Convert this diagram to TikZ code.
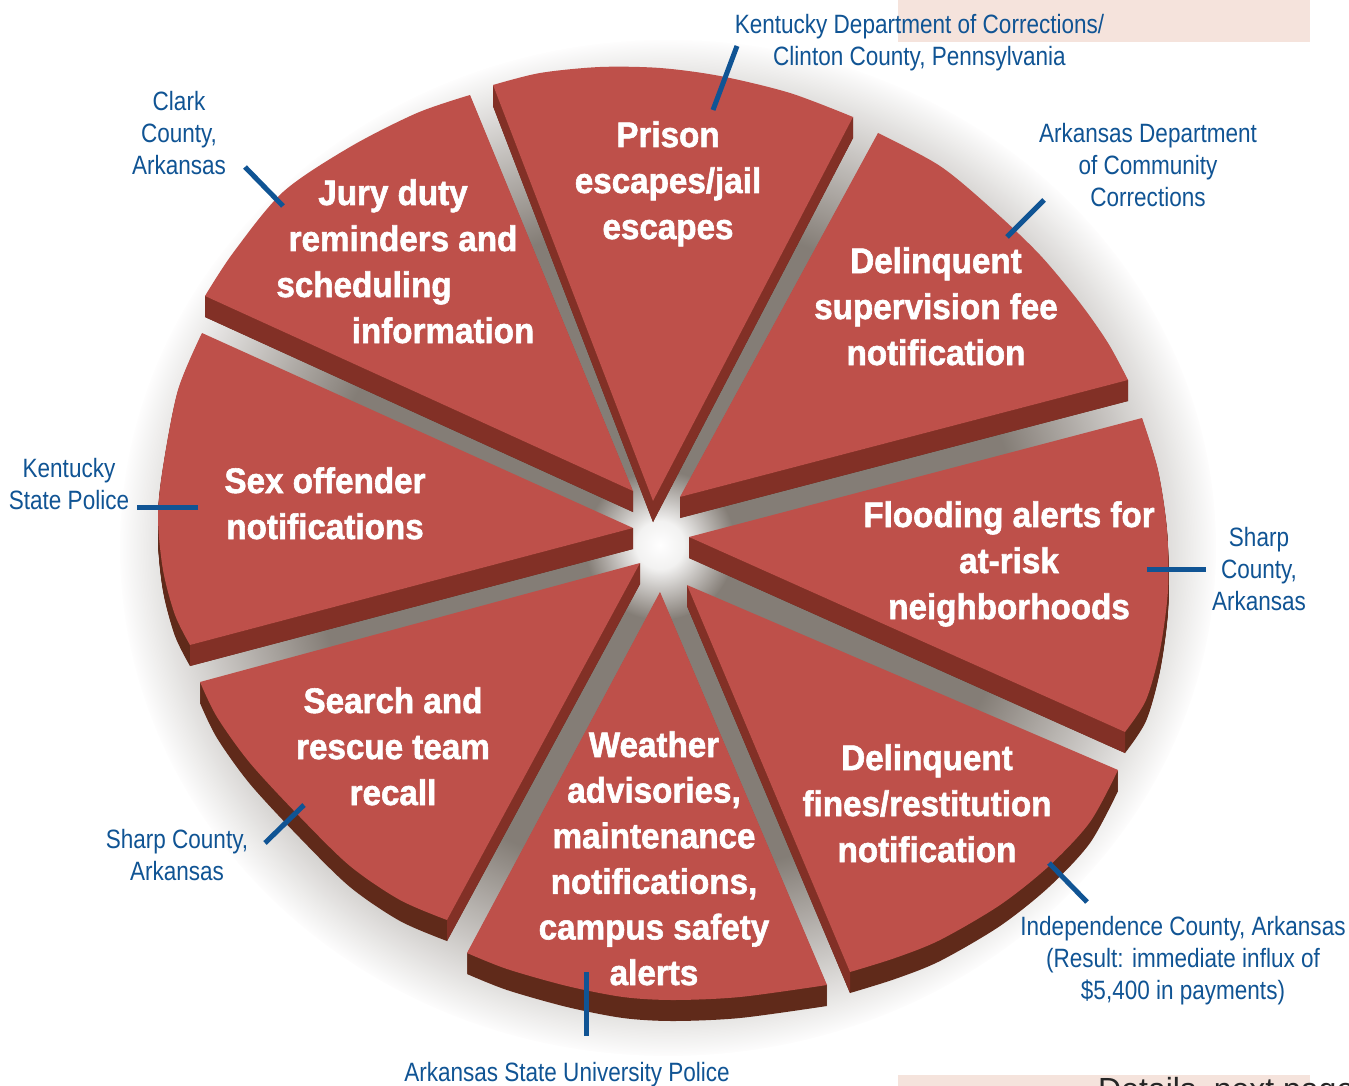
\documentclass[tikz,border=0pt]{standalone}
\usepackage{fontspec}
\usetikzlibrary{fadings,calc}
\newfontfamily\bluefont[FakeStretch=0.85]{Liberation Sans}
\newfontfamily\whitefont[FakeStretch=0.935,BoldFeatures={FakeBold=1.6}]{Liberation Sans}
\newfontfamily\plainfont{Liberation Sans}
\definecolor{topred}{RGB}{190,80,74}
\definecolor{cutred}{RGB}{130,48,38}
\definecolor{rimbrown}{RGB}{96,42,26}
\definecolor{lblblue}{RGB}{16,84,148}
\definecolor{pinkbox}{RGB}{245,227,220}
\definecolor{shadowgray}{RGB}{132,125,118}
\pgfdeclareradialshading{pieshadeshd}{\pgfpointorigin}{color(0bp)=(pgftransparent!0); color(16bp)=(pgftransparent!0); color(25bp)=(pgftransparent!100); color(50bp)=(pgftransparent!100)}
\pgfdeclarefading{pieshade}{\pgfuseshading{pieshadeshd}}
\pgfdeclareradialshading{centreglowshd}{\pgfpointorigin}{color(0bp)=(pgftransparent!0); color(8bp)=(pgftransparent!10); color(25bp)=(pgftransparent!100); color(50bp)=(pgftransparent!100)}
\pgfdeclarefading{centreglow}{\pgfuseshading{centreglowshd}}
\tikzset{
  wtext/.style={text=white, font=\whitefont\bfseries\fontsize{35.5}{46}\selectfont, anchor=base, inner sep=0pt},
  btext/.style={text=lblblue, font=\bluefont\fontsize{26.5}{32}\selectfont, anchor=base, inner sep=0pt},
  leader/.style={draw=lblblue, line width=5pt},
}
\newcommand\textlines[6]{\foreach \lineitem [count=\k] in {#6}{\node[#2] (#1\k) at ({#3},{#4+(\k-1)*#5}) {\lineitem};}}
\newcommand\pieslice[6]{%
  \foreach \s in {1,...,21}{\fill[rimbrown,shift={(0,\s)}] (#1) -- plot[smooth] coordinates {(#2) #3 (#4)} -- cycle;}
  \ifnum#5=1 \fill[cutred] (#1) -- (#2) -- ($(#2)+(0,21)$) -- ($(#1)+(0,21)$) -- cycle;\fi
  \ifnum#6=1 \fill[cutred] (#1) -- (#4) -- ($(#4)+(0,21)$) -- ($(#1)+(0,21)$) -- cycle;\fi
  \fill[topred] (#1) -- plot[smooth] coordinates {(#2) #3 (#4)} -- cycle;}
\begin{document}
\begin{tikzpicture}[x=1pt,y=-1pt]
\useasboundingbox (0,0) rectangle (1349,1086);
\fill[white] (0,0) rectangle (1349,1086);
\fill[pinkbox] (898,0) rectangle (1310,42);
\fill[pinkbox] (898,1075) rectangle (1310,1086);
\begin{scope}
  \clip (0,0) rectangle (1349,1086);
  \node[anchor=base west, inner sep=0pt, font=\plainfont\fontsize{32}{38}\selectfont, text=black!85] (details) at (1098,1100) {Details, next page};
\end{scope}
% shadow and centre glow
\fill[shadowgray, path fading=pieshade] (668,548) ellipse [x radius=548, y radius=508];
\fill[white, path fading=centreglow] (660,545) circle [radius=75];
% slices, back to front
\pieslice{653,501}{493,85}{(540,73) (600,67) (660,68) (720,76) (790,93)}{853,117}{1}{1}
\pieslice{633,491}{205,296}{(233,253) (283,192) (350,147) (417,113)}{470,95}{1}{0}
\pieslice{680,497}{878,133}{(940,166) (993,210) (1040,255) (1080,303) (1108,343)}{1128,380}{0}{1}
\pieslice{633,528}{202,333}{(178,390) (163,467) (158,517) (163,570) (175,615)}{190,645}{0}{1}
\pieslice{689,537}{1142,418}{(1158,470) (1167,530) (1168,590) (1160,650) (1146,700)}{1125,732}{0}{1}
\pieslice{640,563}{200,682}{(217,717) (250,763) (300,817) (350,866) (400,900)}{447,920}{0}{1}
\pieslice{687,585}{1118,770}{(1090,822) (1049,866) (1000,905) (940,940) (895,958)}{850,972}{0}{1}
\pieslice{660,592}{827,985}{(740,997) (673,1000) (623,997) (567,986) (507,969)}{467,953}{0}{0}
% slice texts
\node[wtext] (jury1) at (393,205) {Jury duty};
\node[wtext] (jury2) at (403,251) {reminders and};
\node[wtext] (jury3) at (364,297) {scheduling};
\node[wtext] (jury4) at (443,343) {information};
\textlines{prison}{wtext}{668}{147}{46}{{Prison},{escapes/jail},{escapes}}
\textlines{super}{wtext}{936}{273}{46}{{Delinquent},{supervision fee},{notification}}
\textlines{flood}{wtext}{1009}{527}{46}{{Flooding alerts for},{at-risk},{neighborhoods}}
\textlines{sex}{wtext}{325}{493}{46}{{Sex offender},{notifications}}
\textlines{search}{wtext}{393}{713}{46}{{Search and},{rescue team},{recall}}
\textlines{weather}{wtext}{654}{757}{45.6}{{Weather},{advisories,},{maintenance},{notifications,},{campus safety},{alerts}}
\textlines{fines}{wtext}{927}{770}{46}{{Delinquent},{fines/restitution},{notification}}
% blue labels
\textlines{kdc}{btext}{919.5}{34}{32}{{Kentucky Department of Corrections/},{Clinton County, Pennsylvania}}
\textlines{clark}{btext}{179}{111}{32}{{Clark},{County,},{Arkansas}}
\textlines{adcc}{btext}{1148}{143}{32}{{Arkansas Department},{of Community},{Corrections}}
\textlines{ksp}{btext}{69}{477}{32}{{Kentucky},{State Police}}
\textlines{sharpR}{btext}{1259}{546}{32}{{Sharp},{County,},{Arkansas}}
\textlines{sharpL}{btext}{177}{848}{32}{{Sharp County,},{Arkansas}}
\textlines{asu}{btext}{567}{1081}{32}{{Arkansas State University Police}}
\textlines{indep}{btext}{1183}{935}{32}{{Independence County, Arkansas},{(Result: immediate influx of},{\$5,400 in payments)}}
% leaders
\coordinate (l1a) at (737,46);   \coordinate (l1b) at (713,110);
\coordinate (l2a) at (245,167);  \coordinate (l2b) at (283,206);
\coordinate (l3a) at (1044,200); \coordinate (l3b) at (1007,237);
\coordinate (l4a) at (137,507);  \coordinate (l4b) at (198,507);
\coordinate (l5a) at (1147,569); \coordinate (l5b) at (1206,569);
\coordinate (l6a) at (265,843);  \coordinate (l6b) at (304,805);
\coordinate (l7a) at (586,972);  \coordinate (l7b) at (586,1036);
\coordinate (l8a) at (1049,863); \coordinate (l8b) at (1087,902);
\foreach \a/\b in {l1a/l1b,l2a/l2b,l3a/l3b,l4a/l4b,l5a/l5b,l6a/l6b,l7a/l7b,l8a/l8b}{\draw[leader] (\a) -- (\b);}
\end{tikzpicture}
\end{document}
